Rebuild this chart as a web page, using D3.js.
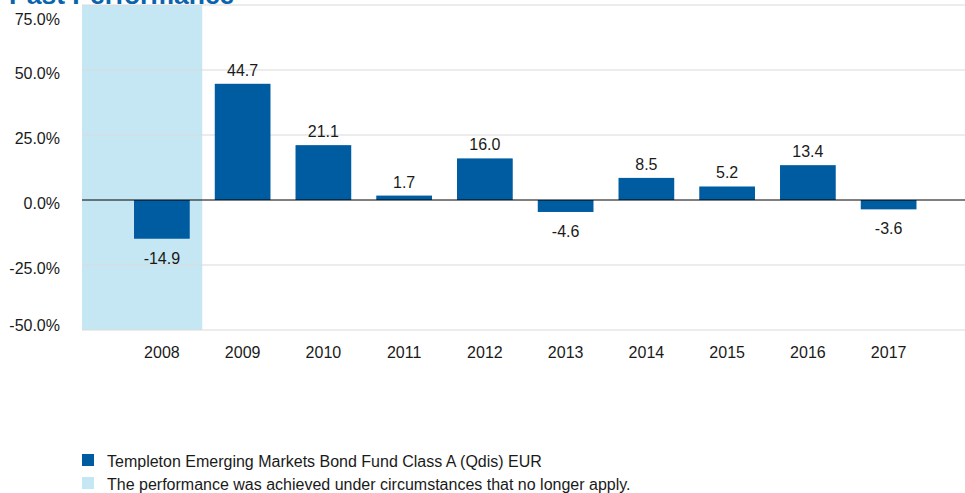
<!DOCTYPE html>
<html>
<head>
<meta charset="utf-8">
<script src="https://cdn.jsdelivr.net/npm/d3@7"></script>
<style>
	body { margin: 0; background: #fff; }
	text { font-family: "Liberation Sans", Arial, sans-serif; }
</style>
</head>
<body>
<div id="chart01"></div>
<script>
var years = ["2008", "2009", "2010", "2011", "2012", "2013", "2014", "2015", "2016", "2017"];
var returns = [-14.9, 44.7, 21.1, 1.7, 16.0, -4.6, 8.5, 5.2, 13.4, -3.6];
var yTicks = [-50, -25, 0, 25, 50, 75];
var shadedYears = ["2008"];
var legendLabels = [
	"Templeton Emerging Markets Bond Fund Class A (Qdis) EUR",
	"The performance was achieved under circumstances that no longer apply."
];

var width = 965, height = 493;
var barColor = "#005ca1";
var shadeColor = "#c5e7f3";
var fontSize = "16px";

var svg = d3.select("#chart01").append("svg")
	.attr("width", width)
	.attr("height", height);

var plotLeft = 82, plotRight = 965;

var x = d3.scaleBand()
	.domain(years)
	.range([121.5, 929])
	.paddingInner(0.31)
	.paddingOuter(0.155);

var y = d3.scaleLinear()
	.domain([-50, 75])
	.range([330, 5]);

// shaded area for old circumstances
shadedYears.forEach(function (yr) {
	svg.append("rect")
		.attr("x", plotLeft)
		.attr("y", y(75))
		.attr("width", x(yr) + x.bandwidth() + x.step() * x.paddingInner() / 2 - plotLeft)
		.attr("height", y(-50) - y(75))
		.attr("fill", shadeColor);
});

// grid lines
svg.append("g")
	.selectAll("line")
	.data(yTicks.filter((d) => d !== 0))
	.enter()
	.append("line")
	.attr("x1", plotLeft)
	.attr("x2", plotRight)
	.attr("y1", (d) => y(d))
	.attr("y2", (d) => y(d))
	.attr("stroke", "#d9d9d9")
	.attr("stroke-width", 1);

// y tick labels (end labels kept inside the chart area)
svg.append("g")
	.selectAll("text")
	.data(yTicks)
	.enter()
	.append("text")
	.attr("x", 60)
	.attr("y", (d) => Math.min(Math.max(y(d) + 9, 25), 331))
	.attr("text-anchor", "end")
	.attr("font-size", fontSize)
	.attr("fill", "#1a1a1a")
	.text((d) => d.toFixed(1) + "%");

// bars
svg.append("g")
	.selectAll("rect")
	.data(returns)
	.enter()
	.append("rect")
	.attr("x", (d, i) => x(years[i]))
	.attr("y", (d) => y(Math.max(0, d)))
	.attr("width", x.bandwidth())
	.attr("height", (d) => Math.abs(y(d) - y(0)))
	.attr("fill", barColor);

// zero line
svg.append("line")
	.attr("x1", plotLeft)
	.attr("x2", plotRight)
	.attr("y1", y(0))
	.attr("y2", y(0))
	.attr("stroke", "#000")
	.attr("stroke-width", 1);

// value labels
svg.append("g")
	.selectAll("text")
	.data(returns)
	.enter()
	.append("text")
	.attr("x", (d, i) => x(years[i]) + x.bandwidth() / 2)
	.attr("y", (d) => d >= 0 ? y(d) - 8 : y(d) + 25)
	.attr("text-anchor", "middle")
	.attr("font-size", fontSize)
	.attr("fill", "#1a1a1a")
	.text((d) => d.toFixed(1));

// x labels
svg.append("g")
	.selectAll("text")
	.data(years)
	.enter()
	.append("text")
	.attr("x", (d) => x(d) + x.bandwidth() / 2)
	.attr("y", 358)
	.attr("text-anchor", "middle")
	.attr("font-size", fontSize)
	.attr("fill", "#1a1a1a")
	.text((d) => d);

// title (cut off at top)
svg.append("text")
	.attr("x", 9)
	.attr("y", 4)
	.attr("font-size", "26.5px")
	.attr("font-weight", "bold")
	.attr("fill", "#0a64ad")
	.text("Past Performance");

// legend
var legend = svg.append("g")
	.attr("transform", "translate(82,454)");

legendLabels.forEach(function (label, index) {
	var row = legend.append("g")
		.attr("transform", `translate(0, ${index * 23})`);
	row.append("rect")
		.attr("width", 12)
		.attr("height", 12)
		.attr("fill", index === 0 ? barColor : shadeColor);
	row.append("text")
		.attr("x", 25)
		.attr("y", 13)
		.attr("font-size", fontSize)
		.attr("fill", "#1a1a1a")
		.text(label);
});
</script>
</body>
</html>
